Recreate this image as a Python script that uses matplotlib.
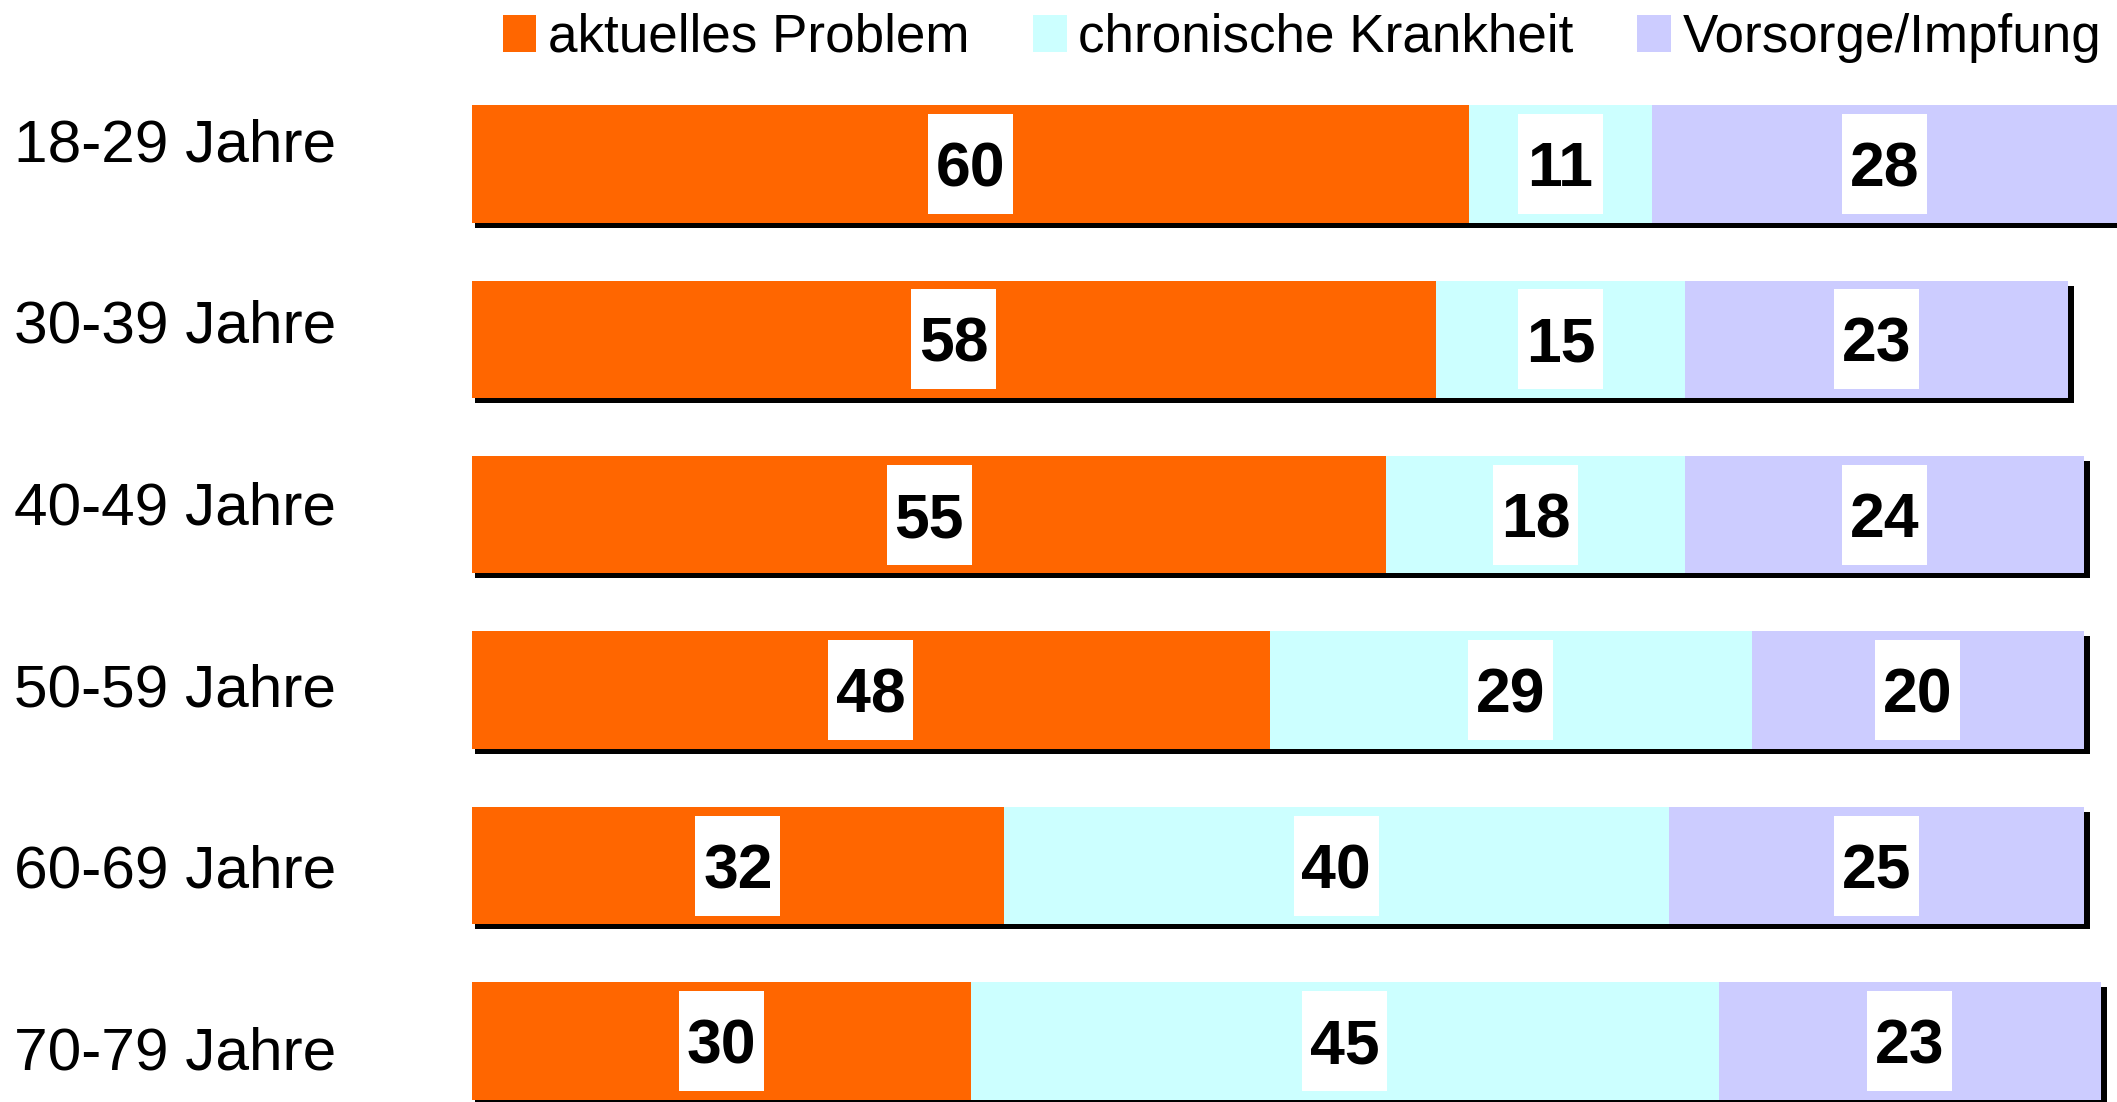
import numpy as np
import matplotlib

matplotlib.use("Agg")
import matplotlib.pyplot as plt
from matplotlib.patches import Rectangle
from matplotlib.transforms import blended_transform_factory

plt.rcParams['font.family'] = ['Liberation Sans', 'DejaVu Sans']

groups = ["18-29 Jahre", "30-39 Jahre", "40-49 Jahre", "50-59 Jahre", "60-69 Jahre", "70-79 Jahre"]
series = ["aktuelles Problem", "chronische Krankheit", "Vorsorge/Impfung"]
aktuell = [60, 58, 55, 48, 32, 30]
chronisch = [11, 15, 18, 29, 40, 45]
vorsorge = [28, 23, 24, 20, 25, 23]
colors = ["#FF6600", "#CCFFFF", "#CCCCFF"]

W, H = 2117, 1102
fig = plt.figure(figsize=(W / 100, H / 100), dpi=100)
x0 = 472
ax = fig.add_axes([x0 / W, 0, 1 - x0 / W, 1])
px_x = 16.62   # pixels per percent
px_y = 175.4   # pixels per bar slot
ax.set_xlim(0, (W - x0) / px_x)
ax.set_ylim((H - 163.9) / px_y, -163.9 / px_y)
ax.axis("off")

y = np.arange(len(groups))
h = 0.67
data = np.array([aktuell, chronisch, vorsorge], dtype=float)
totals = data.sum(axis=0)

# shadow behind each bar
ax.barh(y + 5 / px_y, totals + 0.18, left=0.18, height=h, color="black", zorder=1)

left = np.zeros(len(groups))
handles = []
for vals, col, name in zip(data, colors, series):
    b = ax.barh(y, vals, left=left, height=h, color=col, zorder=2, label=name)
    handles.append(b)
    bw, bh = 85 / px_x, 100 / px_y
    for yi, l, v in zip(y, left, vals):
        cx = l + v / 2
        ax.add_patch(Rectangle((cx - bw / 2, yi - bh / 2), bw, bh, fc="white", ec="none", zorder=3))
        ax.text(cx, yi + 6 / px_y, "%d" % v, ha="center", va="center", fontsize=45,
                fontweight="bold", color="black", zorder=4)
    left = left + vals

# category labels on the left
tr = blended_transform_factory(fig.transFigure, ax.transData)
for i, g in enumerate(groups):
    yl = (145.5 + i * 181.7 - 163.9) / px_y
    ax.text(14 / W, yl, g, transform=tr, ha="left", va="center", fontsize=43.5, color="black")

fig.legend(handles=handles, labels=series, loc="center left",
           bbox_to_anchor=(503 / W, 1 - 38 / H), bbox_transform=fig.transFigure,
           ncol=3, frameon=False, fontsize=38.2, handlelength=0.63, handleheight=0.7,
           handletextpad=0.22, columnspacing=1.2, borderpad=0, borderaxespad=0)

fig.savefig("out.png", dpi=100)
